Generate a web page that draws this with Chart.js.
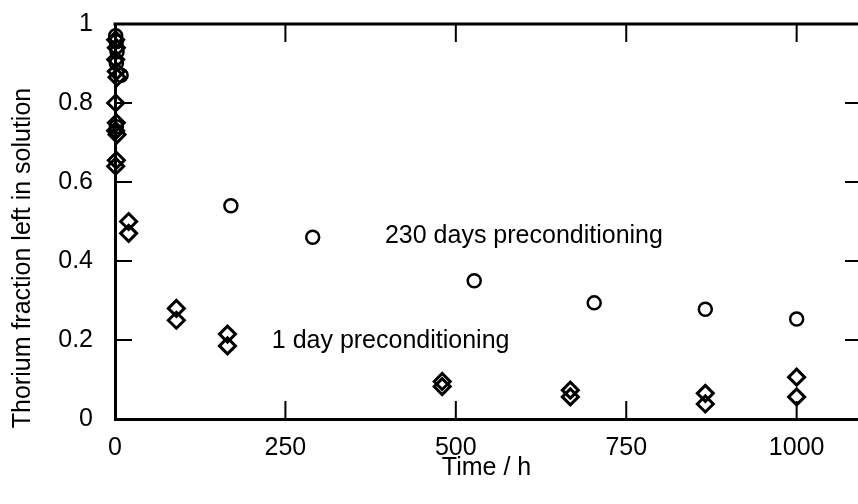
<!DOCTYPE html>
<html>
<head>
<meta charset="utf-8">
<script src="https://cdn.jsdelivr.net/npm/chart.js@4.4.1/dist/chart.umd.min.js"></script>
<style>
  html, body { margin: 0; padding: 0; background: #fff; overflow: hidden; }
  #thChart { display: block; }
</style>
</head>
<body>
<canvas id="thChart" width="858" height="504"></canvas>
<script>
// Thorium sorption: fraction left in solution vs. contact time
const dayOneTime = [1, 2, 1, 2, 3, 1, 2, 1, 3, 2, 1, 20, 20, 90, 90, 165, 165, 480, 480, 668, 668, 866, 866, 1000, 1000];
const dayOneFrac = [0.96, 0.94, 0.91, 0.88, 0.865, 0.80, 0.75, 0.73, 0.72, 0.655, 0.64, 0.50, 0.47, 0.28, 0.25, 0.215, 0.185, 0.095, 0.082, 0.073, 0.056, 0.065, 0.038, 0.106, 0.056];

const day230Time = [1, 2, 3, 2, 9, 2, 170, 290, 527, 703, 866, 1000];
const day230Frac = [0.97, 0.955, 0.93, 0.90, 0.87, 0.74, 0.54, 0.46, 0.35, 0.294, 0.278, 0.253];

const xTicks = [0, 250, 500, 750, 1000];
const yTicks = [0, 0.2, 0.4, 0.6, 0.8, 1];

const seriesNotes = [
  { text: "230 days preconditioning", x: 396, y: 0.463 },
  { text: "1 day preconditioning", x: 230, y: 0.197 }
];

const FONT = "Liberation Sans, Arial, Helvetica, sans-serif";
Chart.defaults.font.family = FONT;
Chart.defaults.color = "#000";

function toPoints(xs, ys) {
  return xs.map((x, i) => ({ x, y: ys[i] }));
}

// inward tick marks on all four sides, top frame, notes and y title
Chart.register({
  id: "frameAndNotes",
  afterDraw(chart) {
    const ctx = chart.ctx;
    const area = chart.chartArea;
    const xs = chart.scales.x;
    const ys = chart.scales.y;

    ctx.save();
    ctx.strokeStyle = "#000";
    ctx.lineWidth = 3;
    ctx.beginPath();
    ctx.moveTo(area.left - 1.5, area.top);
    ctx.lineTo(area.right, area.top);
    ctx.stroke();

    ctx.lineWidth = 2;
    ctx.beginPath();
    xTicks.forEach((v) => {
      const px = xs.getPixelForValue(v);
      if (v === 0) return;
      ctx.moveTo(px, area.bottom);
      ctx.lineTo(px, area.bottom - 18);
      ctx.moveTo(px, area.top);
      ctx.lineTo(px, area.top + 18);
    });
    yTicks.forEach((v) => {
      if (v === 0 || v === 1) return;
      const py = ys.getPixelForValue(v);
      ctx.moveTo(area.left, py);
      ctx.lineTo(area.left + 17, py);
      ctx.moveTo(area.right, py);
      ctx.lineTo(area.right - 13, py);
    });
    ctx.stroke();

    ctx.fillStyle = "#000";
    ctx.font = `25px ${FONT}`;
    ctx.textAlign = "left";
    ctx.textBaseline = "middle";
    seriesNotes.forEach((n) => {
      ctx.fillText(n.text, xs.getPixelForValue(n.x), ys.getPixelForValue(n.y));
    });

    ctx.translate(23, 258);
    ctx.rotate(-Math.PI / 2);
    ctx.textAlign = "center";
    ctx.fillText("Thorium fraction left in solution", 0, 0);
    ctx.restore();
  }
});

new Chart(document.getElementById("thChart"), {
  type: "scatter",
  data: {
    datasets: [
      {
        label: "1 day preconditioning",
        data: toPoints(dayOneTime, dayOneFrac),
        pointStyle: "rectRot",
        pointRadius: 8,
        pointBorderWidth: 3,
        pointBorderColor: "#000",
        pointBackgroundColor: "rgba(0,0,0,0)",
        clip: false
      },
      {
        label: "230 days preconditioning",
        data: toPoints(day230Time, day230Frac),
        pointStyle: "circle",
        pointRadius: 6.5,
        pointBorderWidth: 2.5,
        pointBorderColor: "#000",
        pointBackgroundColor: "rgba(0,0,0,0)",
        clip: false
      }
    ]
  },
  options: {
    responsive: false,
    animation: false,
    layout: { autoPadding: false, padding: { top: 24, right: 0, left: 0, bottom: 0 } },
    plugins: {
      legend: { display: false },
      tooltip: { enabled: false }
    },
    scales: {
      x: {
        type: "linear",
        min: 0,
        max: 1090,
        afterFit: (scale) => {
          scale.height = 85;
          scale.paddingLeft = 0;
          scale.paddingRight = 0;
        },
        afterBuildTicks: (scale) => { scale.ticks = xTicks.map((v) => ({ value: v })); },
        grid: { display: true, drawOnChartArea: false, drawTicks: false },
        border: { display: true, width: 3, color: "#000" },
        ticks: {
          padding: 14,
          font: { size: 25 },
          color: "#000",
          callback: (v) => String(v)
        },
        title: {
          display: true,
          text: "Time / h",
          font: { size: 25 },
          color: "#000",
          padding: { top: 0, bottom: 21 }
        }
      },
      y: {
        type: "linear",
        min: 0,
        max: 1,
        afterFit: (scale) => {
          scale.width = 115;
          scale.paddingTop = 0;
          scale.paddingBottom = 0;
        },
        afterBuildTicks: (scale) => { scale.ticks = yTicks.map((v) => ({ value: v })); },
        grid: { display: true, drawOnChartArea: false, drawTicks: false },
        border: { display: true, width: 3, color: "#000" },
        ticks: {
          padding: 22,
          font: { size: 25 },
          color: "#000",
          callback: (v) => String(Math.round(v * 10) / 10)
        }
      }
    }
  }
});
</script>
</body>
</html>
